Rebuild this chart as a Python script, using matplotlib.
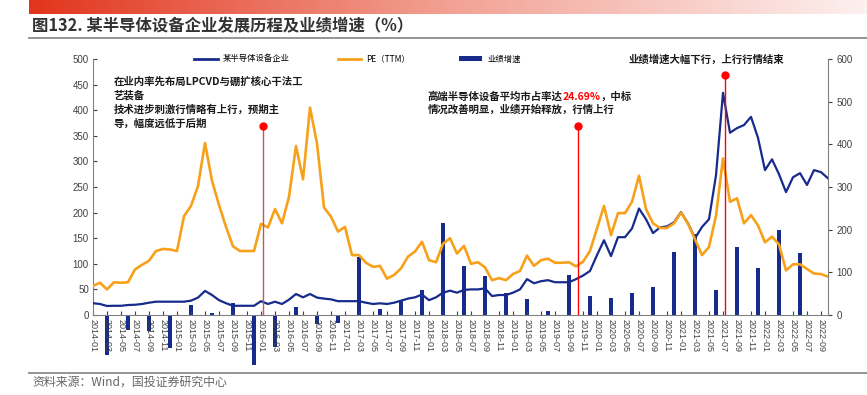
import numpy as np
import pandas as pd
import matplotlib
matplotlib.use('Agg')
import matplotlib.pyplot as plt
from matplotlib.lines import Line2D
from matplotlib.patches import Patch
from matplotlib.colors import LinearSegmentedColormap

plt.rcParams['font.family'] = ['Noto Sans CJK SC', 'DejaVu Sans']

# monthly axis 2014-01 .. 2022-10
months = pd.period_range('2014-01', '2022-10', freq='M').strftime('%Y-%m').tolist()

company = [23, 21.5, 17.6, 18, 18, 19.5, 20, 21.5, 24, 26, 26, 26, 26, 26, 28, 34, 47, 39, 29, 23,
           18, 18, 18, 18, 27, 21.5, 26, 21.5, 30, 41, 34.5, 41, 34, 32, 30.6, 27, 27, 27, 27, 24,
           21.5, 22.8, 21.5, 24, 28, 32, 34.5, 40, 29, 34.5, 43.6, 47.5, 43.6, 49, 50, 50, 52, 37, 39, 39,
           43.6, 50, 70, 62, 66, 68, 64, 64, 64, 70, 77, 86, 117, 146, 115, 152, 152, 169, 208, 187,
           160, 171, 173, 181, 201, 179, 150, 172, 187, 273, 434, 356, 365, 371, 387, 346, 283, 304, 275, 240,
           269, 277, 254, 283, 279, 267]

pe_ttm = [57, 63, 50, 64, 63, 64, 89, 98, 106, 125, 129, 128, 125, 193, 213, 252, 336, 262, 215, 172,
          134, 125, 125, 125, 178, 171, 207, 179, 231, 330, 265, 405, 335, 210, 192, 163, 172, 117, 117, 102,
          94, 96, 71, 78, 91, 114, 124, 143, 107, 103, 139, 150, 120, 135, 100, 103, 93, 68, 72, 68,
          80, 86, 116, 96, 107, 110, 102, 102, 103, 95, 104, 125, 169, 213, 156, 199, 199, 221, 272, 207,
          179, 170, 170, 179, 200, 178, 148, 117, 133, 194, 306, 221, 228, 179, 195, 175, 142, 153, 138, 87,
          99, 99, 90, 81, 80, 75]

# quarterly growth (%), 2014-03 .. 2022-06
growth_months = months[2:102:3]
growth = [-94, -35, -37, -77, 23, 5, 27, -117, -74, 18, -21, -19, 137, 14, 33, 59, 216, 115, 91, 51,
          37, 10, 94, 45, 41, 52, 65, 148, 191, 59, 159, 109, 199, 145]

event_months = ['2016-01', '2019-10', '2021-07']
event_tops = [370, 370, 469]
event_colors = ['#c05a58', '#ff0000', '#ff0000']

navy = '#172b8c'
orange = '#f7a11a'
grey = '#808080'

fig = plt.figure(figsize=(8.67, 3.95), dpi=100)
ax = fig.add_axes([93/867, 1-315/395, (828-93)/867, (315-59)/395])
ax2 = ax.twinx()
ax.set_zorder(ax2.get_zorder() + 1)
ax.patch.set_visible(False)

x = np.arange(len(months))
gx = [months.index(m) for m in growth_months]
ax2.bar(gx, growth, width=0.67, color=navy, clip_on=False, zorder=2)

ax.plot(x, company, color=navy, lw=1.6, zorder=3)
ax.plot(x, pe_ttm, color=orange, lw=1.9, zorder=3)

for m, top, c in zip(event_months, event_tops, event_colors):
    xe = months.index(m) + 0.3
    ax.plot([xe, xe], [0, top], color=c, lw=1.0, zorder=4)
    ax.plot(xe, top, 'o', color='#ff0000', ms=5, zorder=5, clip_on=False)

ax.set_xlim(0, 105)
ax.set_ylim(0, 500)
ax2.set_ylim(0, 600)
ax.set_yticks(range(0, 501, 50))
ax2.set_yticks(range(0, 601, 100))
ax.set_xticks(x[::2])
ax.set_xticklabels(months[::2], rotation=270, fontsize=6.5, family='Liberation Sans')
ax.tick_params(axis='x', direction='in', length=3, pad=3, colors='#404040')
ax.tick_params(axis='y', direction='in', length=3, labelsize=7, colors='#404040', pad=3)
ax2.tick_params(axis='y', direction='out', length=3, labelsize=7, colors='#404040', pad=3)
for lab in ax.get_yticklabels() + ax2.get_yticklabels():
    lab.set_family('Liberation Sans')
ax.spines['top'].set_visible(False)
ax.spines['right'].set_visible(False)
for s in ['top', 'left', 'bottom']:
    ax2.spines[s].set_visible(False)
for sp in [ax.spines['left'], ax.spines['bottom'], ax2.spines['right']]:
    sp.set_color(grey)

# annotations
ax.text(2.9, 415, '在业内率先布局LPCVD与硼扩核心干法工\n艺装备\n技术进步刺激行情略有上行，预期主\n导，幅度远低于后期',
        fontsize=7.5, fontweight='bold', va='center', ha='left', linespacing=1.45, color='#1a1a1a')
t1 = ax.text(47.8, 426, '高端半导体设备平均市占率达', fontsize=7.5, fontweight='bold', va='center', color='#1a1a1a')
t2 = ax.annotate('24.69%', xy=(1, 0), xycoords=t1, va='bottom', fontsize=7.5, fontweight='bold', color='#ff0000')
ax.annotate('，中标', xy=(1, 0), xycoords=t2, va='bottom', fontsize=7.5, fontweight='bold', color='#1a1a1a')
ax.text(47.8, 400, '情况改善明显，业绩开始释放，行情上行', fontsize=7.5, fontweight='bold', va='center', color='#1a1a1a')
ax.text(87.6, 498, '业绩增速大幅下行，上行行情结束', fontsize=7.5, fontweight='bold', va='center', ha='center',
        color='#1a1a1a', clip_on=False)

handles = [Line2D([], [], color=navy, lw=2), Line2D([], [], color=orange, lw=2),
           Patch(facecolor=navy, edgecolor='none')]
fig.legend(handles, ['某半导体设备企业', 'PE（TTM）', '业绩增速'], loc='center',
           bbox_to_anchor=((193 + 522) / 2 / 867, 1 - 59/395), ncol=3, frameon=False,
           fontsize=6, handlelength=2.8, handleheight=0.6, columnspacing=5.8, handletextpad=0.6)

# header / footer decoration
cmap = LinearSegmentedColormap.from_list('hdr', ['#e2351d', '#f2a193', '#fdf0ef'])
gax = fig.add_axes([29/867, 1-14/395, 1-29/867, 14/395])
gax.imshow(np.linspace(0, 1, 256)[None, :], aspect='auto', cmap=cmap)
gax.axis('off')
fig.add_artist(Line2D([29/867, 1], [1-38/395, 1-38/395], color='#8c8c8c', lw=1.3))
fig.add_artist(Line2D([29/867, 1], [1-373/395, 1-373/395], color='#8c8c8c', lw=1.3))
fig.text(32/867, 1-26/395, '图132. 某半导体设备企业发展历程及业绩增速（%）', fontsize=11.8, fontweight='bold',
         va='center', color='#333333')
fig.text(32/867, 1-382/395, '资料来源：Wind，国投证券研究中心', fontsize=8.6, style='italic',
         va='center', color='#666666')

fig.savefig('out.png', dpi=100)
